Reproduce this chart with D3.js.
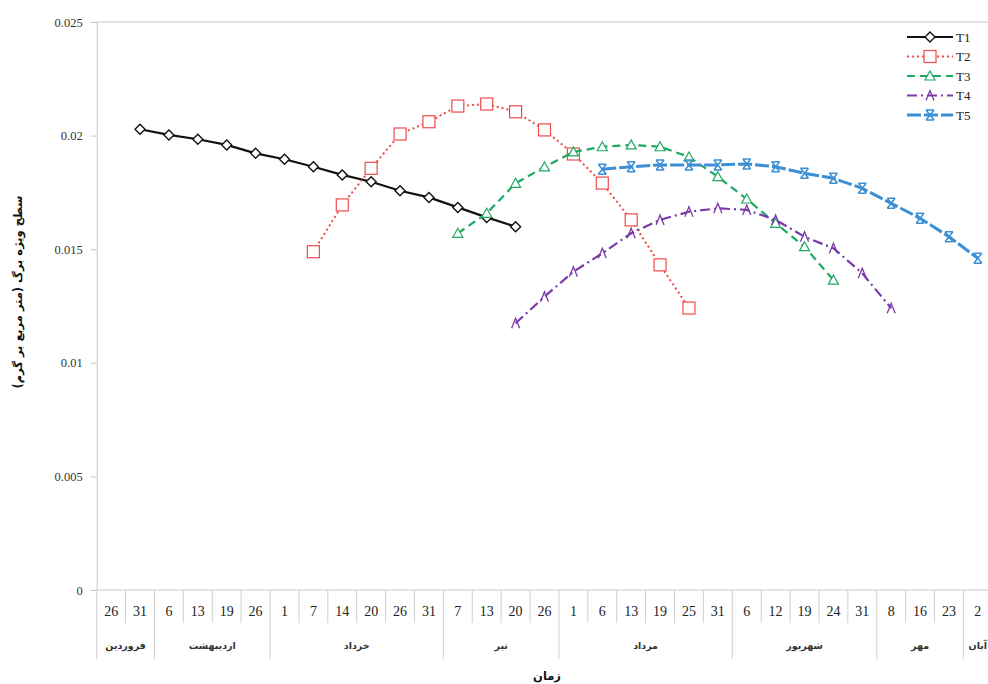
<!DOCTYPE html>
<html><head><meta charset="utf-8">
<script src="https://cdn.jsdelivr.net/npm/d3@7"></script>
<style>body{margin:0;background:#fff}svg{display:block}</style>
</head><body>
<script>
const categories = ["26","31","6","13","19","26","1","7","14","20","26","31","7","13","20","26","1","6","13","19","25","31","6","12","19","24","31","8","16","23","2"];
const months = ["فروردین","اردیبهشت","خرداد","تیر","مرداد","شهریور","مهر","آبان"];
const monthSpans = [2,4,6,4,6,5,3,1];
const yTicks = [0,0.005,0.01,0.015,0.02,0.025];
const seriesNames = ["T1","T2","T3","T4","T5"];
const _ = null;
const T1 = [_,0.02028,0.02003,0.01984,0.01959,0.01922,0.01896,0.01863,0.01827,0.01797,0.01757,0.01728,0.01684,0.01640,0.01599,_,_,_,_,_,_,_,_,_,_,_,_,_,_,_,_];
const T2 = [_,_,_,_,_,_,_,0.01489,0.01695,0.01856,0.02007,0.02061,0.02130,0.02139,0.02105,0.02025,0.01919,0.01791,0.01629,0.01431,0.01241,_,_,_,_,_,_,_,_,_,_];
const T3 = [_,_,_,_,_,_,_,_,_,_,_,_,0.01570,0.01658,0.01790,0.01862,0.01928,0.01951,0.01959,0.01951,0.01906,0.01819,0.01721,0.01614,0.01511,0.01364,_,_,_,_,_];
const T4 = [_,_,_,_,_,_,_,_,_,_,_,_,_,_,0.01174,0.01291,0.01401,0.01482,0.01570,0.01629,0.01665,0.01680,0.01673,0.01629,0.01555,0.01504,0.01394,0.01240,_,_,_];
const T5 = [_,_,_,_,_,_,_,_,_,_,_,_,_,_,_,_,_,0.01852,0.01863,0.01871,0.01871,0.01871,0.01875,0.01863,0.01834,0.01812,0.01768,0.01702,0.01636,0.01555,0.01460];
const seriesValues = [T1,T2,T3,T4,T5];

const W = 988, H = 684;
const pLeft = 96.7, pRight = 992.3, pTop = 22, pBottom = 590;
const svg = d3.select("body").append("svg").attr("width", W).attr("height", H);

const x = d3.scaleBand().domain(d3.range(categories.length)).range([pLeft, pRight]).paddingInner(0).paddingOuter(0);
const y = d3.scaleLinear().domain([0, 0.025]).range([pBottom, pTop]);

const serif = "'Liberation Serif','Times New Roman',serif";
const arabic = "'DejaVu Sans',sans-serif";
const axisCol = "#c8c8c8";

// top border & axes
svg.append("line").attr("x1", pLeft).attr("x2", W).attr("y1", pTop).attr("y2", pTop).attr("stroke", axisCol);
const yAxis = d3.axisLeft(y).tickValues(yTicks).tickSize(6).tickFormat(d => d === 0 ? "0" : String(+d.toFixed(3)));
const gy = svg.append("g").attr("transform", `translate(${pLeft},0)`).call(yAxis);
gy.select(".domain").attr("stroke", axisCol);
gy.selectAll(".tick line").attr("stroke", axisCol);
gy.selectAll(".tick text").attr("font-family", serif).attr("font-size", 12.5).attr("fill", "#333").attr("x", -14);

// x axis line
svg.append("line").attr("x1", pLeft).attr("x2", W).attr("y1", pBottom).attr("y2", pBottom).attr("stroke", axisCol);

// category separators and labels
const monthStarts = [];
let acc = 0;
monthSpans.forEach(s => { monthStarts.push(acc); acc += s; });
const gx = svg.append("g");
categories.forEach((c, i) => {
  const isMonth = monthStarts.includes(i);
  gx.append("line").attr("x1", x(i)).attr("x2", x(i)).attr("y1", pBottom).attr("y2", isMonth ? 659 : 623)
    .attr("stroke", "#d0d0d0");
  gx.append("text").attr("x", x(i) + x.bandwidth() / 2).attr("y", 611).attr("dy", "0.35em")
    .attr("text-anchor", "middle").attr("font-family", serif).attr("font-size", 14).attr("fill", "#222").text(c);
});
months.forEach((m, k) => {
  const s = monthStarts[k], e = s + monthSpans[k];
  const cx = (x(s) + x(e - 1) + x.bandwidth()) / 2;
  gx.append("text").attr("x", cx).attr("y", 646).attr("dy", "0.35em").attr("text-anchor", "middle")
    .attr("font-family", arabic).attr("font-size", 9.5).attr("font-weight", "bold").attr("fill", "#333").text(m);
});

// titles
svg.append("text").attr("x", 547).attr("y", 676).attr("dy", "0.35em").attr("text-anchor", "middle")
  .attr("font-family", arabic).attr("font-size", 11.5).attr("font-weight", "bold").attr("fill", "#111").text("زمان");
svg.append("text").attr("transform", "translate(18,292) rotate(-90)").attr("dy", "0.35em").attr("text-anchor", "middle")
  .attr("font-family", arabic).attr("font-size", 11.5).attr("font-weight", "bold").attr("fill", "#111")
  .text("سطح ویژه برگ (متر مربع بر گرم)");

// series styles
const styles = [
  {color: "#111111", dash: null, width: 2.2, marker: "diamond"},
  {color: "#f04a4a", dash: "2,3", width: 2, marker: "square"},
  {color: "#1fa862", dash: "8,5", width: 2.2, marker: "triangle"},
  {color: "#7a3aa8", dash: "10,4,2,4", width: 2.2, marker: "cross"},
  {color: "#3b8fd4", dash: "14,3", width: 3, marker: "star"}
];

function drawMarker(g, type, cx, cy, color) {
  if (type === "diamond") {
    g.append("path").attr("d", `M${cx},${cy-5}L${cx+5},${cy}L${cx},${cy+5}L${cx-5},${cy}Z`)
      .attr("fill", "#fff").attr("stroke", color).attr("stroke-width", 1.4);
  } else if (type === "square") {
    g.append("rect").attr("x", cx - 6).attr("y", cy - 6).attr("width", 12).attr("height", 12)
      .attr("fill", "#fff").attr("stroke", color).attr("stroke-width", 1.2);
  } else if (type === "triangle") {
    g.append("path").attr("d", `M${cx},${cy-5}L${cx+5},${cy+4}L${cx-5},${cy+4}Z`)
      .attr("fill", "#fff").attr("stroke", color).attr("stroke-width", 1.2);
  } else if (type === "cross") {
    g.append("path").attr("d", `M${cx-4},${cy+5}L${cx},${cy-5}L${cx+4},${cy+5}`)
      .attr("fill", "none").attr("stroke", color).attr("stroke-width", 1.3);
  } else if (type === "star") {
    g.append("path").attr("d", `M${cx-4},${cy-5}L${cx+4},${cy+5}M${cx+4},${cy-5}L${cx-4},${cy+5}M${cx-4},${cy-5}L${cx+4},${cy-5}M${cx-4},${cy+5}L${cx+4},${cy+5}`)
      .attr("fill", "none").attr("stroke", color).attr("stroke-width", 1.5);
  }
}

const line = d3.line().defined(d => d.v !== null).x(d => x(d.i) + x.bandwidth() / 2).y(d => y(d.v));
seriesValues.forEach((vals, si) => {
  const st = styles[si];
  const pts = vals.map((v, i) => ({i, v}));
  const g = svg.append("g");
  g.append("path").datum(pts).attr("d", line).attr("fill", "none").attr("stroke", st.color)
    .attr("stroke-width", st.width).attr("stroke-dasharray", st.dash);
  pts.filter(d => d.v !== null).forEach(d => drawMarker(g, st.marker, x(d.i) + x.bandwidth() / 2, y(d.v), st.color));
});

// legend
const leg = svg.append("g");
seriesNames.forEach((n, i) => {
  const ly = 37 + i * 19.5;
  const st = styles[i];
  leg.append("line").attr("x1", 907).attr("x2", 953).attr("y1", ly).attr("y2", ly)
    .attr("stroke", st.color).attr("stroke-width", st.width).attr("stroke-dasharray", st.dash);
  drawMarker(leg, st.marker, 930, ly, st.color);
  leg.append("text").attr("x", 956).attr("y", ly).attr("dy", "0.35em").attr("font-family", serif)
    .attr("font-size", 13).attr("fill", "#222").text(n);
});
</script>
</body></html>
